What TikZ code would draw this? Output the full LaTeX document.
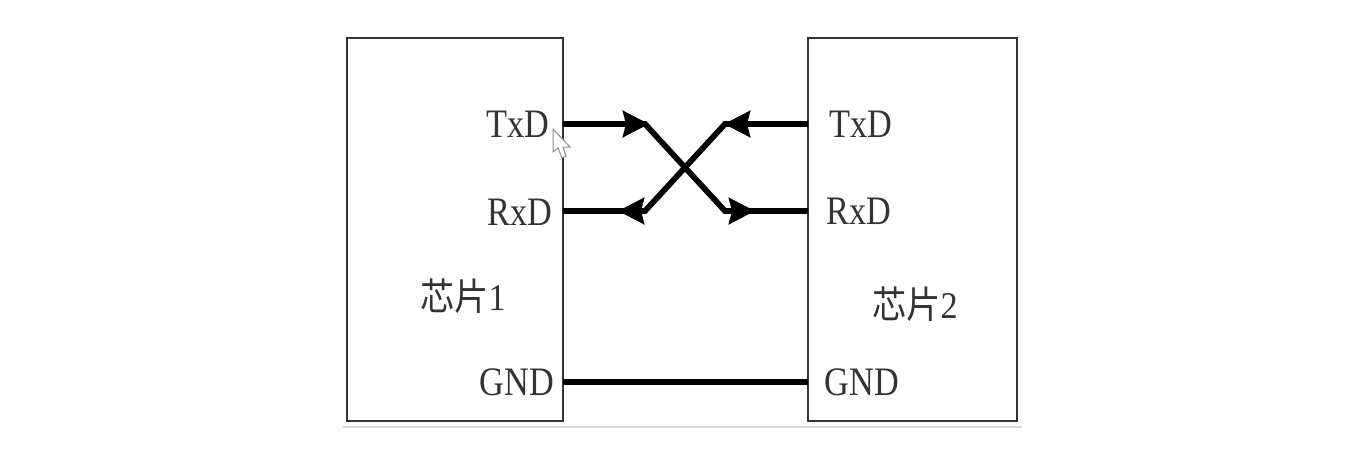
\documentclass[tikz,border=0pt]{standalone}
\usepackage{fontspec}
\setmainfont{Liberation Serif}
\newfontfamily\cjk{Noto Sans CJK SC}
\usetikzlibrary{arrows.meta}
\definecolor{ink}{HTML}{333333}
\tikzstyle{chip}=[draw=ink,line width=.04cm]
\tikzstyle{pin}=[text=ink,inner sep=0pt,yscale=1.18,transform shape,font=\fontsize{19.5}{22}\selectfont]
\tikzstyle{lbl}=[text=ink,inner sep=0pt,yscale=1.1,transform shape,font=\fontsize{19.5}{22}\selectfont]
\tikzstyle{wire}=[line width=.115cm,black]
\tikzstyle{tip}=[line width=.115cm,black,-{Stealth[length=.52cm,width=.52cm,inset=.06cm]}]

\begin{document}
\begin{tikzpicture}[x=.02cm,y=-.02cm]
\useasboundingbox (0,0) rectangle (1361,456);
% the two chips
\draw[chip] (347,38) rectangle (563,421);
\draw[chip] (808,38) rectangle (1017,421);
\draw[draw=black!15,line width=.03cm] (343,427) -- (1022,427);
% pin names
\draw (518,124) node[pin] (txa) {TxD};
\draw (520,212) node[pin] (rxa) {RxD};
\draw (517,382) node[pin] (gnda) {GND};
\draw (861,124) node[pin] (txb) {TxD};
\draw (859,211) node[pin] (rxb) {RxD};
\draw (862,382) node[pin] (gndb) {GND};
\draw (463,296) node[lbl] (chipa) {{\cjk 芯片}1};
\draw (915,304) node[lbl] (chipb) {{\cjk 芯片}2};
% ends and bends of the crossed lines
\coordinate (ta) at (563,124);
\coordinate (tb) at (808,124);
\coordinate (ra) at (563,211);
\coordinate (rb) at (808,211);
\coordinate (n1) at (645,124);
\coordinate (n2) at (725,124);
\coordinate (n3) at (645,211);
\coordinate (n4) at (725,211);
\coordinate (g1) at (563,382);
\coordinate (g2) at (808,382);
\draw[wire] (ta) -- (n1) -- (n4) -- (rb);
\draw[wire] (tb) -- (n2) -- (n3) -- (ra);
\draw[wire] (g1) -- (g2);
% arrow heads
\coordinate (h1) at (649,124);
\coordinate (h2) at (724,124);
\coordinate (h3) at (618,211);
\coordinate (h4) at (755,211);
\draw[tip] (ta) -- (h1);
\draw[tip] (tb) -- (h2);
\draw[tip] (n3) -- (h3);
\draw[tip] (n4) -- (h4);
% mouse pointer
\draw[draw=black!45,fill=white,line width=.02cm] (553,129) -- (553,152) -- (558,148) -- (562,158) -- (566,156) -- (563,147) -- (570,147) -- cycle;
\end{tikzpicture}
\end{document}
